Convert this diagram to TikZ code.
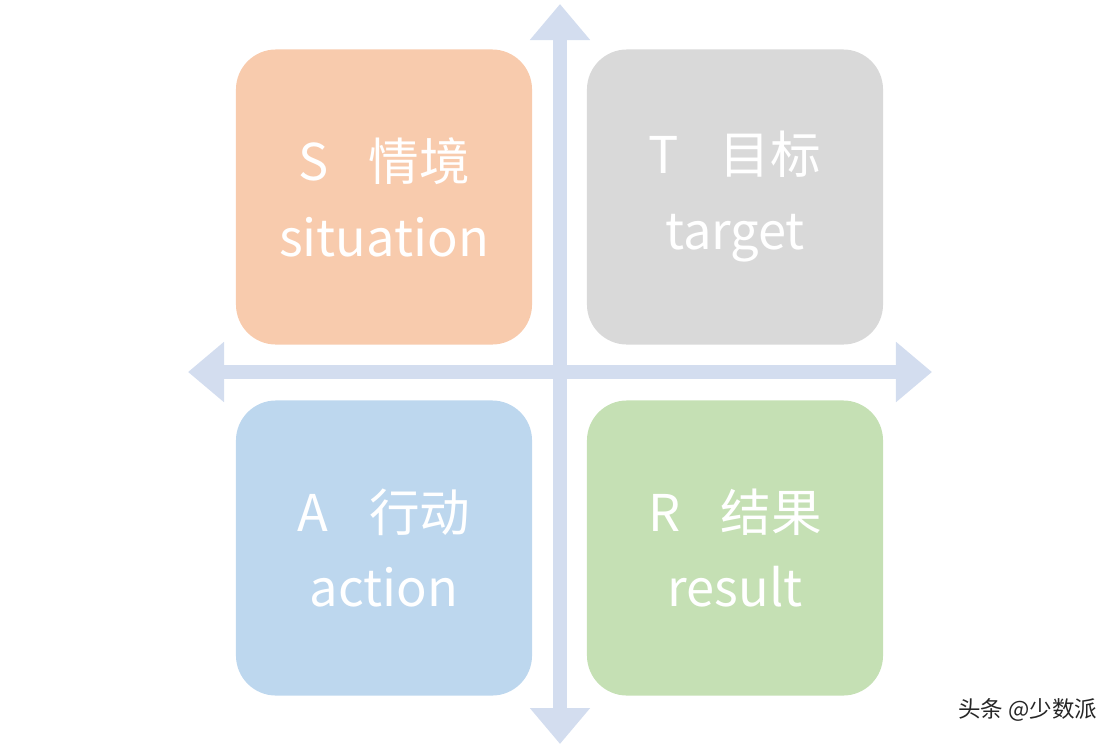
\documentclass[tikz,border=0pt]{standalone}
\usepackage{fontspec}
\setmainfont{Noto Sans CJK SC}
\usetikzlibrary{positioning,arrows.meta}
\definecolor{sitc}{HTML}{F8CBAD}
\definecolor{tarc}{HTML}{D9D9D9}
\definecolor{actc}{HTML}{BDD7EE}
\definecolor{resc}{HTML}{C5E0B4}
\definecolor{axisc}{HTML}{D3DDEF}
\begin{document}
\begin{tikzpicture}[x=0.025cm,y=-0.025cm]
\tikzset{quad/.style={rounded corners=1cm, minimum width=7.4cm, minimum height=7.375cm, inner sep=0pt, text=white, align=center, font=\fontsize{36}{54}\selectfont},
axis/.style={axisc, line width=0.36cm, {Triangle[width=1.45cm,length=0.9cm]}-{Triangle[width=1.45cm,length=0.9cm]}}}
\useasboundingbox (0,0) rectangle (1120,746);

\coordinate (top) at (560,4);
\coordinate (bottom) at (560,744);
\coordinate (left) at (188,372);
\coordinate (right) at (932,372);
\draw[axis] (left) -- (right);
\draw[axis] (bottom) -- (top);

\node[quad, fill=sitc] (s) at (384,197) {S\hspace{0.8em}情境\\situation};
\node[quad, fill=tarc] (t) at (735,197) {T\hspace{0.8em}目标\\target};
\node[quad, fill=actc] (a) at (384,548) {A\hspace{0.8em}行动\\action};
\node[quad, fill=resc] (r) at (735,548) {R\hspace{0.8em}结果\\result};

\node[anchor=east, font=\fontsize{16}{18}\selectfont, text=black!85] (mark) at (1102,710) {头条 @少数派};
\end{tikzpicture}
\end{document}
